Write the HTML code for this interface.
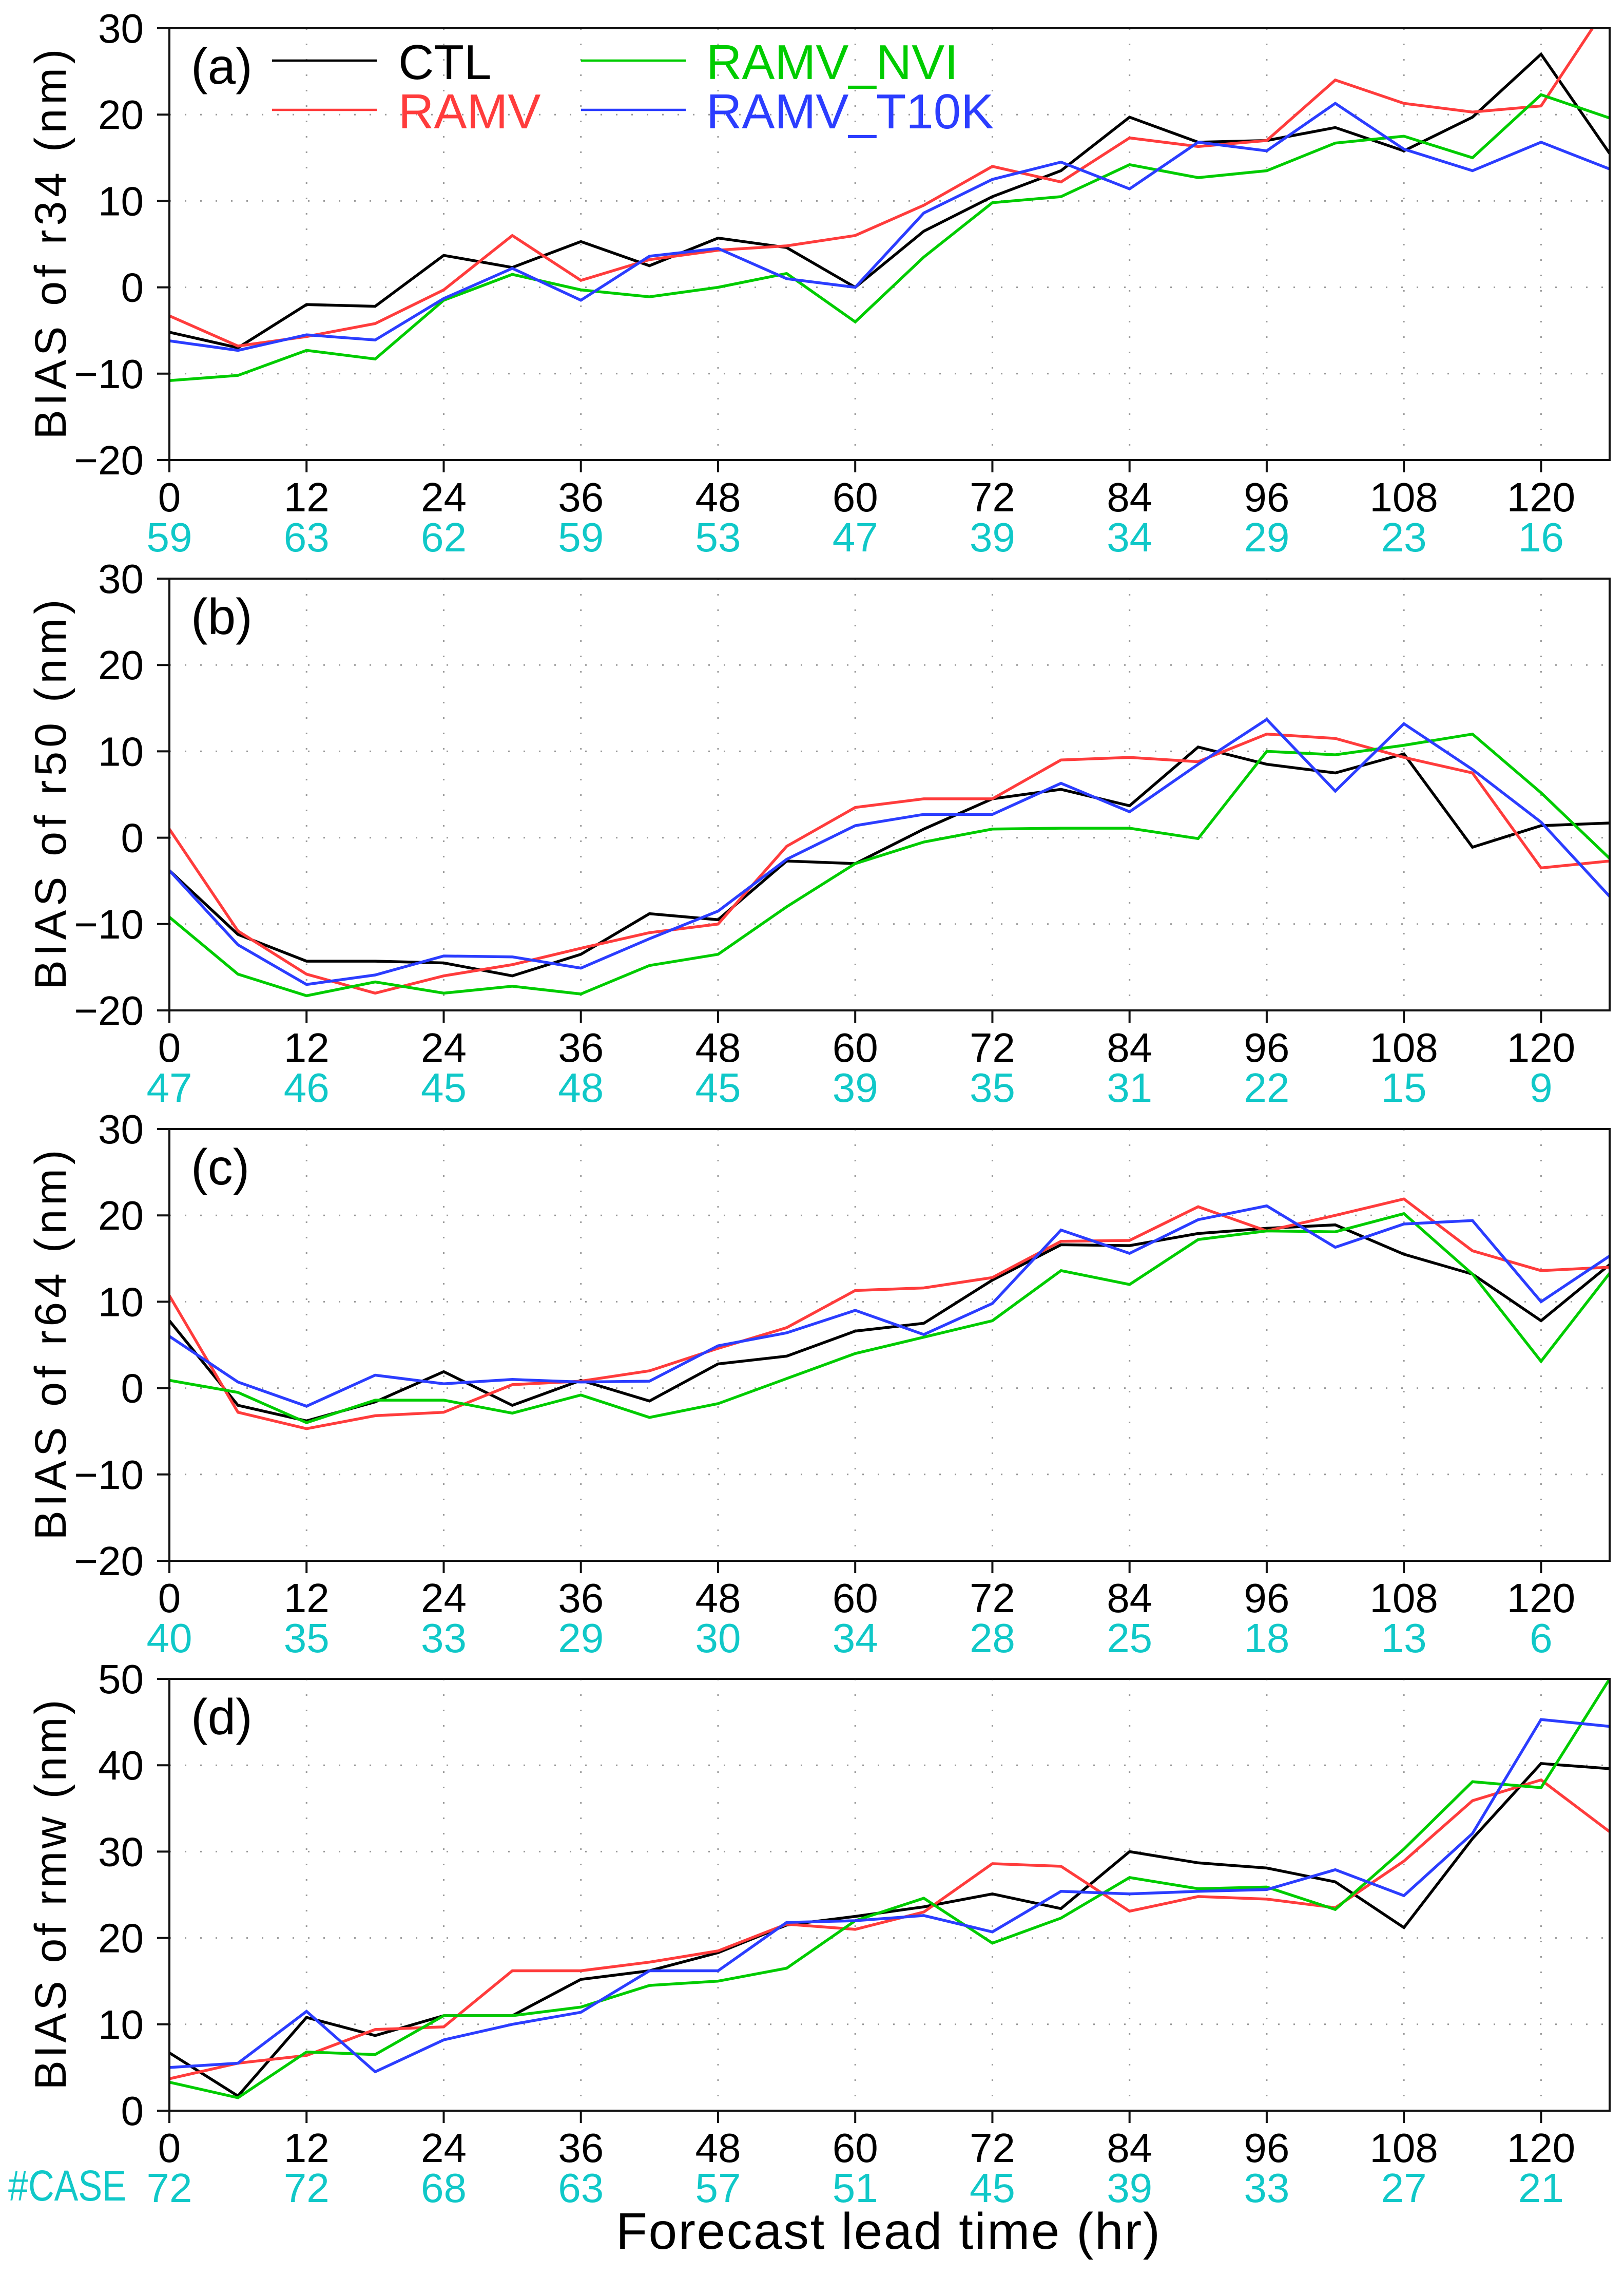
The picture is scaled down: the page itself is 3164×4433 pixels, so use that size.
<!DOCTYPE html>
<html><head><meta charset="utf-8"><style>
html,body{margin:0;padding:0;background:#fff;}
svg{display:block;font-family:"Liberation Sans",sans-serif;}
</style></head><body>
<svg id="chart" width="3164" height="4433" viewBox="0 0 3164 4433" xmlns="http://www.w3.org/2000/svg"></svg>
<script>
const hours = [0,6,12,18,24,30,36,42,48,54,60,66,72,78,84,90,96,102,108,114,120,126];
const xTicks = [0,12,24,36,48,60,72,84,96,108,120];
const seriesNames = ["CTL","RAMV","RAMV_NVI","RAMV_T10K"];
const panelIds = ["a","b","c","d"];
const panelVars = ["r34","r50","r64","rmw"];
const yTicksA = [-20,-10,0,10,20,30];
const yTicksD = [0,10,20,30,40,50];
// panel (a) r34
const a_CTL  = [-5.2,-7,-2,-2.2,3.7,2.3,5.3,2.5,5.7,4.6,0,6.5,10.5,13.5,19.7,16.8,17,18.5,15.8,19.7,27,15.5];
const a_RAMV = [-3.3,-6.8,-5.7,-4.2,-0.3,6,0.8,3.2,4.3,4.8,6,9.5,14,12.2,17.3,16.3,17,24,21.3,20.3,21,33];
const a_NVI  = [-10.8,-10.2,-7.3,-8.3,-1.5,1.5,-0.3,-1.1,0,1.6,-4,3.5,9.8,10.5,14.2,12.7,13.5,16.7,17.5,15,22.3,19.6];
const a_T10K = [-6.2,-7.3,-5.5,-6.1,-1.3,2.2,-1.5,3.6,4.5,1,0,8.6,12.5,14.5,11.4,16.8,15.8,21.3,16,13.5,16.8,13.7];
// panel (b) r50
const b_CTL  = [-3.8,-11.2,-14.3,-14.3,-14.5,-16,-13.5,-8.8,-9.5,-2.7,-3,1,4.5,5.6,3.7,10.5,8.5,7.5,9.7,-1.1,1.4,1.7];
const b_RAMV = [1,-10.8,-15.8,-18,-16,-14.7,-12.8,-11,-10,-1,3.5,4.5,4.5,9,9.3,8.8,12,11.5,9.3,7.5,-3.5,-2.7];
const b_NVI  = [-9.2,-15.8,-18.3,-16.7,-18,-17.2,-18.1,-14.8,-13.5,-8,-3,-0.5,1,1.1,1.1,-0.1,10,9.6,10.7,12,5.2,-2.4];
const b_T10K = [-3.8,-12.4,-17,-15.9,-13.7,-13.8,-15.1,-11.7,-8.5,-2.5,1.4,2.7,2.7,6.3,3,8.5,13.7,5.4,13.2,7.9,1.8,-6.8];
// panel (c) r64
const c_CTL  = [7.8,-2,-3.8,-1.6,1.9,-2,0.9,-1.5,2.8,3.7,6.6,7.5,12.5,16.6,16.5,17.9,18.5,18.9,15.5,13.2,7.8,14.3];
const c_RAMV = [10.7,-2.8,-4.7,-3.2,-2.8,0.4,0.8,2,4.6,7,11.3,11.6,12.8,17,17.1,21,18.2,20,21.9,15.9,13.6,14];
const c_NVI  = [0.9,-0.5,-4,-1.4,-1.4,-2.9,-0.8,-3.4,-1.8,1.1,4,5.9,7.8,13.6,12,17.2,18.2,18.1,20.2,13.2,3.1,13.3];
const c_T10K = [6,0.7,-2.1,1.5,0.5,1,0.7,0.8,4.9,6.4,9,6.2,9.8,18.3,15.6,19.5,21.1,16.3,19,19.4,10,15.3];
// panel (d) rmw
const d_CTL  = [6.7,1.7,10.8,8.7,11,11,15.2,16.2,18.3,21.5,22.5,23.6,25.1,23.4,30,28.7,28.1,26.5,21.2,31.5,40.2,39.6];
const d_RAMV = [3.7,5.5,6.4,9.4,9.7,16.2,16.2,17.2,18.5,21.6,21,23,28.6,28.3,23.1,24.8,24.5,23.5,28.9,35.9,38.3,32.3];
const d_NVI  = [3.3,1.5,6.8,6.5,11,11,12,14.5,15,16.5,22,24.6,19.4,22.3,27,25.7,25.9,23.3,30.3,38.1,37.4,50];
const d_T10K = [5,5.5,11.5,4.5,8.2,10,11.4,16.2,16.2,21.8,22,22.6,20.7,25.4,25.1,25.4,25.6,27.9,24.9,32.1,45.3,44.5];
const countsA = [59,63,62,59,53,47,39,34,29,23,16];
const countsB = [47,46,45,48,45,39,35,31,22,15,9];
const countsC = [40,35,33,29,30,34,28,25,18,13,6];
const countsD = [72,72,68,63,57,51,45,39,33,27,21];

const NS="http://www.w3.org/2000/svg";
const svg=document.getElementById('chart');
const colors=["#000000","#ff3c3c","#00cc00","#2b3dff"];
const X0=330, PXH=22.27, X1=X0+126*PXH;
const tops=[55,1127,2199,3270], PH=841;
function el(tag,attrs,parent){const e=document.createElementNS(NS,tag);for(const k in attrs)e.setAttribute(k,attrs[k]);(parent||svg).appendChild(e);return e;}
function xs(h){return X0+h*PXH;}
const panelData=[[a_CTL,a_RAMV,a_NVI,a_T10K],[b_CTL,b_RAMV,b_NVI,b_T10K],[c_CTL,c_RAMV,c_NVI,c_T10K],[d_CTL,d_RAMV,d_NVI,d_T10K]];
const panelCounts=[countsA,countsB,countsC,countsD];
const defs=el('defs',{});
panelIds.forEach((pid,pi)=>{
  const top=tops[pi], bot=top+PH;
  const yt = pi===3?yTicksD:yTicksA;
  const ymin=yt[0], ymax=yt[yt.length-1];
  const ys=v=>bot-(v-ymin)/(ymax-ymin)*PH;
  const g=el('g',{});
  
  
  const cp=el('clipPath',{id:'clip'+pid},defs);
  el('rect',{x:X0,y:top,width:X1-X0,height:PH},cp);
  yt.forEach(v=>{
    if(v===ymin||v===ymax)return;
    const l=el('line',{x1:X0,x2:X1,y1:ys(v),y2:ys(v),stroke:'#999',"stroke-width":3,"stroke-dasharray":"3 27"},g);
    
    
  });
  xTicks.forEach(h=>{
    if(h===0)return;
    const l=el('line',{x1:xs(h),x2:xs(h),y1:top,y2:bot,stroke:'#999',"stroke-width":3,"stroke-dasharray":"3 27"},g);
    
    
  });
  panelData[pi].forEach((arr,si)=>{
    const pts=arr.map((v,i)=>xs(hours[i]).toFixed(1)+','+ys(v).toFixed(1)).join(' ');
    const pl=el('polyline',{points:pts,fill:'none',stroke:colors[si],"stroke-width":5.5,"stroke-linejoin":"miter","clip-path":'url(#clip'+pid+')'},g);
    
    
  });
  const fr=el('rect',{x:X0,y:top,width:X1-X0,height:PH,fill:'none',stroke:'#111',"stroke-width":4},g);
  
  
  yt.forEach(v=>{
    el('line',{x1:X0-24,x2:X0,y1:ys(v),y2:ys(v),stroke:'#111',"stroke-width":4},g);
    const t=el('text',{x:X0-50,y:ys(v)+28,"text-anchor":'end',"font-size":80,fill:'#000'},g);
    t.textContent=(v<0?'\u2212':'')+Math.abs(v);
    
    
  });
  xTicks.forEach((h,i)=>{
    el('line',{x1:xs(h),x2:xs(h),y1:bot,y2:bot+24,stroke:'#111',"stroke-width":4},g);
    const t=el('text',{x:xs(h),y:bot+100,"text-anchor":'middle',"font-size":80,fill:'#000'},g);
    t.textContent=h;
    
    
    const c=el('text',{x:xs(h),y:bot+178,"text-anchor":'middle',"font-size":80,fill:'#10c8c8'},g);
    c.textContent=panelCounts[pi][i];
    
    
  });
  const cy=top+PH/2;
  const yt2=el('text',{x:0,y:0,transform:`translate(128,${cy}) rotate(-90)`,"text-anchor":'middle',"font-size":86,fill:'#000',"xml:space":"preserve",textLength:760,lengthAdjust:"spacing"},g);
  yt2.textContent='BIAS  of  '+panelVars[pi]+'  (nm)';
  
  
  const pl=el('text',{x:372,y:top+108,"font-size":98,fill:'#000'},g);
  pl.textContent='('+pid+')';
  
  
});
const legPos=[[530,118,776],[530,214,776],[1132,118,1376],[1132,214,1376]];
seriesNames.forEach((n,i)=>{
  const lg=el('g',{});
  
  
  const p=legPos[i];
  el('line',{x1:p[0],x2:p[0]+204,y1:p[1],y2:p[1],stroke:colors[i],"stroke-width":4.5},lg);
  const t=el('text',{x:p[2],y:p[1]+36,"font-size":96,fill:colors[i]},lg);
  t.textContent=n;
});
const cs=el('text',{x:16,y:4286,"font-size":84,fill:'#10c8c8',textLength:230,lengthAdjust:"spacingAndGlyphs"});
cs.textContent='#CASE';


const xt=el('text',{x:1730,y:4380,"text-anchor":'middle',"font-size":100,fill:'#000',"xml:space":"preserve",textLength:1060,lengthAdjust:"spacing"});
xt.textContent='Forecast  lead  time  (hr)';


</script>
</body></html>
